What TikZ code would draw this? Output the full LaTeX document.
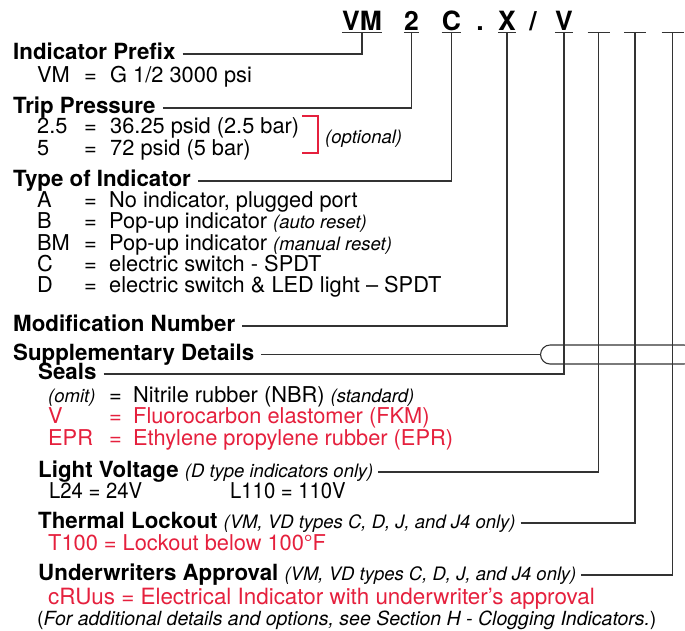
\documentclass[tikz,border=0pt]{standalone}
\usepackage{fontspec}
\setmainfont{TeX Gyre Heros}
\usepackage{xcolor}
\usepackage{graphicx}
\usepackage{tikz}
\usetikzlibrary{positioning}
\definecolor{vmRed}{HTML}{E5203D}
\definecolor{vmLine}{HTML}{333333}
\newcommand{\notefont}{\fontsize{18.5}{20}\selectfont\mdseries\itshape}
\tikzset{
  codeletter/.style={font=\fontsize{26.5}{28}\selectfont\bfseries, anchor=base, inner sep=0pt},
  heading/.style={font=\fontsize{22.3}{24}\selectfont\bfseries, anchor=base west, inner sep=0pt},
  entry/.style={font=\fontsize{21.8}{23}\selectfont, anchor=base west, inner sep=0pt},
  note/.style={font=\notefont, anchor=base west, inner sep=0pt},
  leader/.style={draw=vmLine, line width=1.1pt},
  bracket/.style={draw=vmRed, line width=1.1pt},
  bundle/.style={draw=vmLine, line width=1.1pt, rounded corners=9.5pt,
    minimum width=153pt, minimum height=19pt, anchor=west, inner sep=0pt}
}

\begin{document}
\begin{tikzpicture}[x=1pt, y=-1pt]
  \useasboundingbox (0,0) rectangle (685,630);

  % ordering code
  \node[codeletter] (cVM) at (362,30) {VM};
  \node[codeletter] (c2) at (411.5,30) {2};
  \node[codeletter] (cC) at (451.5,30) {C};
  \node[codeletter] (cDot) at (480,30) {.};
  \node[codeletter] (cX) at (507,30) {X};
  \node[codeletter] (cSlash) at (533,30) {/};
  \node[codeletter] (cV) at (564,30) {V};
  \coordinate (b1) at (598.5,32.5);
  \coordinate (b2) at (635,32.5);
  \coordinate (b3) at (672.5,32.5);
  \foreach \n in {cVM, c2, cC, cX, cV}
    \draw[leader] ([yshift=-2.5pt]\n.base west) -- ([yshift=-2.5pt]\n.base east);
  \foreach \n in {b1, b2, b3}
    \draw[leader] ([xshift=-11pt]\n) -- ([xshift=11pt]\n);

  % indicator prefix
  \node[heading] (prefix) at (13,59.5) {Indicator Prefix};
  \node[entry] (vm) at (37,82) {VM};
  \node[entry] (vmeq) at (84,82) {=};
  \node[entry] (vmdesc) at (110,82) {G 1/2 3000 psi};

  % trip pressure
  \node[heading] (trip) at (13,113.5) {Trip Pressure};
  \node[entry] (tp1) at (37,133) {2.5};
  \node[entry] (tp1eq) at (84,133) {=};
  \node[entry] (tp1desc) at (110,133) {36.25 psid (2.5 bar)};
  \node[entry] (tp2) at (37,155) {5};
  \node[entry] (tp2eq) at (84,155) {=};
  \node[entry] (tp2desc) at (110,155) {72 psid (5 bar)};
  \draw[bracket] (302,116) -| (318,153) -- (302,153);
  \node[note] (opt) at (325,143) {(optional)};

  % type of indicator
  \node[heading] (type) at (13,186.5) {Type of Indicator};
  \foreach \yy/\code/\desc [count=\i] in {
      207/A/{No indicator, plugged port},
      228.5/B/{Pop-up indicator {\notefont(auto reset)}},
      250/BM/{Pop-up indicator {\notefont(manual reset)}},
      271/C/{electric switch - SPDT},
      292.5/D/{electric switch \& LED light – SPDT}} {
    \node[entry] (type\i) at (37,\yy) {\code};
    \node[entry] (typeeq\i) at (84,\yy) {=};
    \node[entry] (typedesc\i) at (109,\yy) {\desc};
  }

  % modification number
  \node[heading] (mod) at (13,331.5) {Modification Number};

  % supplementary details
  \node[heading] (supp) at (13,360) {Supplementary Details};
  \node[bundle] (bund) at (540,354.5) {};
  \node[heading] (seals) at (38,379.5) {Seals};
  \node[note] (omit) at (48,402) {(omit)};
  \node[entry] (omiteq) at (109,402) {=};
  \node[entry] (omitdesc) at (133,402) {Nitrile rubber (NBR) {\notefont(standard)}};
  \node[entry, text=vmRed] (sealV) at (48,423.5) {V};
  \node[entry, text=vmRed] (sealVeq) at (109,423.5) {=};
  \node[entry, text=vmRed] (sealVdesc) at (133,423.5) {Fluorocarbon elastomer (FKM)};
  \node[entry, text=vmRed] (sealE) at (48,445) {EPR};
  \node[entry, text=vmRed] (sealEeq) at (109,445) {=};
  \node[entry, text=vmRed] (sealEdesc) at (133,445) {Ethylene propylene rubber (EPR)};

  \node[heading] (light) at (38,477.5) {Light Voltage {\notefont(D type indicators only)}};
  \node[entry] (l24) at (49,498.5) {\scalebox{0.93}[1]{L24 = 24V}};
  \node[entry] (l110) at (230,498.5) {\scalebox{0.93}[1]{L110 = 110V}};

  \node[heading] (therm) at (38,528.5) {Thermal Lockout {\notefont(VM, VD types C, D, J, and J4 only)}};
  \node[entry, text=vmRed] (t100) at (48,550) {T100 = Lockout below 100°F};

  \node[heading] (ul) at (38,580.5) {Underwriters Approval {\notefont(VM, VD types C, D, J, and J4 only)}};
  \node[entry, text=vmRed, font=\fontsize{22.4}{23}\selectfont] (cru) at (48,604) {cRUus = Electrical Indicator with underwriter’s approval};
  \node[entry, font=\fontsize{19.5}{20}\selectfont] (footer) at (37,625.5) {({\itshape For additional details and options, see Section H - Clogging Indicators.})};

  % leaders
  \draw[leader] ([shift={(7,-5.5)}]prefix.base east) -| ([yshift=-2.5pt]cVM.base);
  \draw[leader] ([shift={(7,-5.5)}]trip.base east) -| ([yshift=-2.5pt]c2.base);
  \draw[leader] ([shift={(7,-5.5)}]type.base east) -| ([yshift=-2.5pt]cC.base);
  \draw[leader] ([shift={(7,-5.5)}]mod.base east) -| ([yshift=-2.5pt]cX.base);
  \draw[leader] ([shift={(7,-5.5)}]supp.base east) -- (bund.west);
  \draw[leader] ([shift={(7,-5.5)}]seals.base east) -| ([yshift=-2.5pt]cV.base);
  \draw[leader] ([shift={(5,-5.5)}]light.base east) -| (b1);
  \draw[leader] ([shift={(5,-5.5)}]therm.base east) -| (b2);
  \draw[leader] ([shift={(5,-5.5)}]ul.base east) -| (b3);
\end{tikzpicture}
\end{document}
